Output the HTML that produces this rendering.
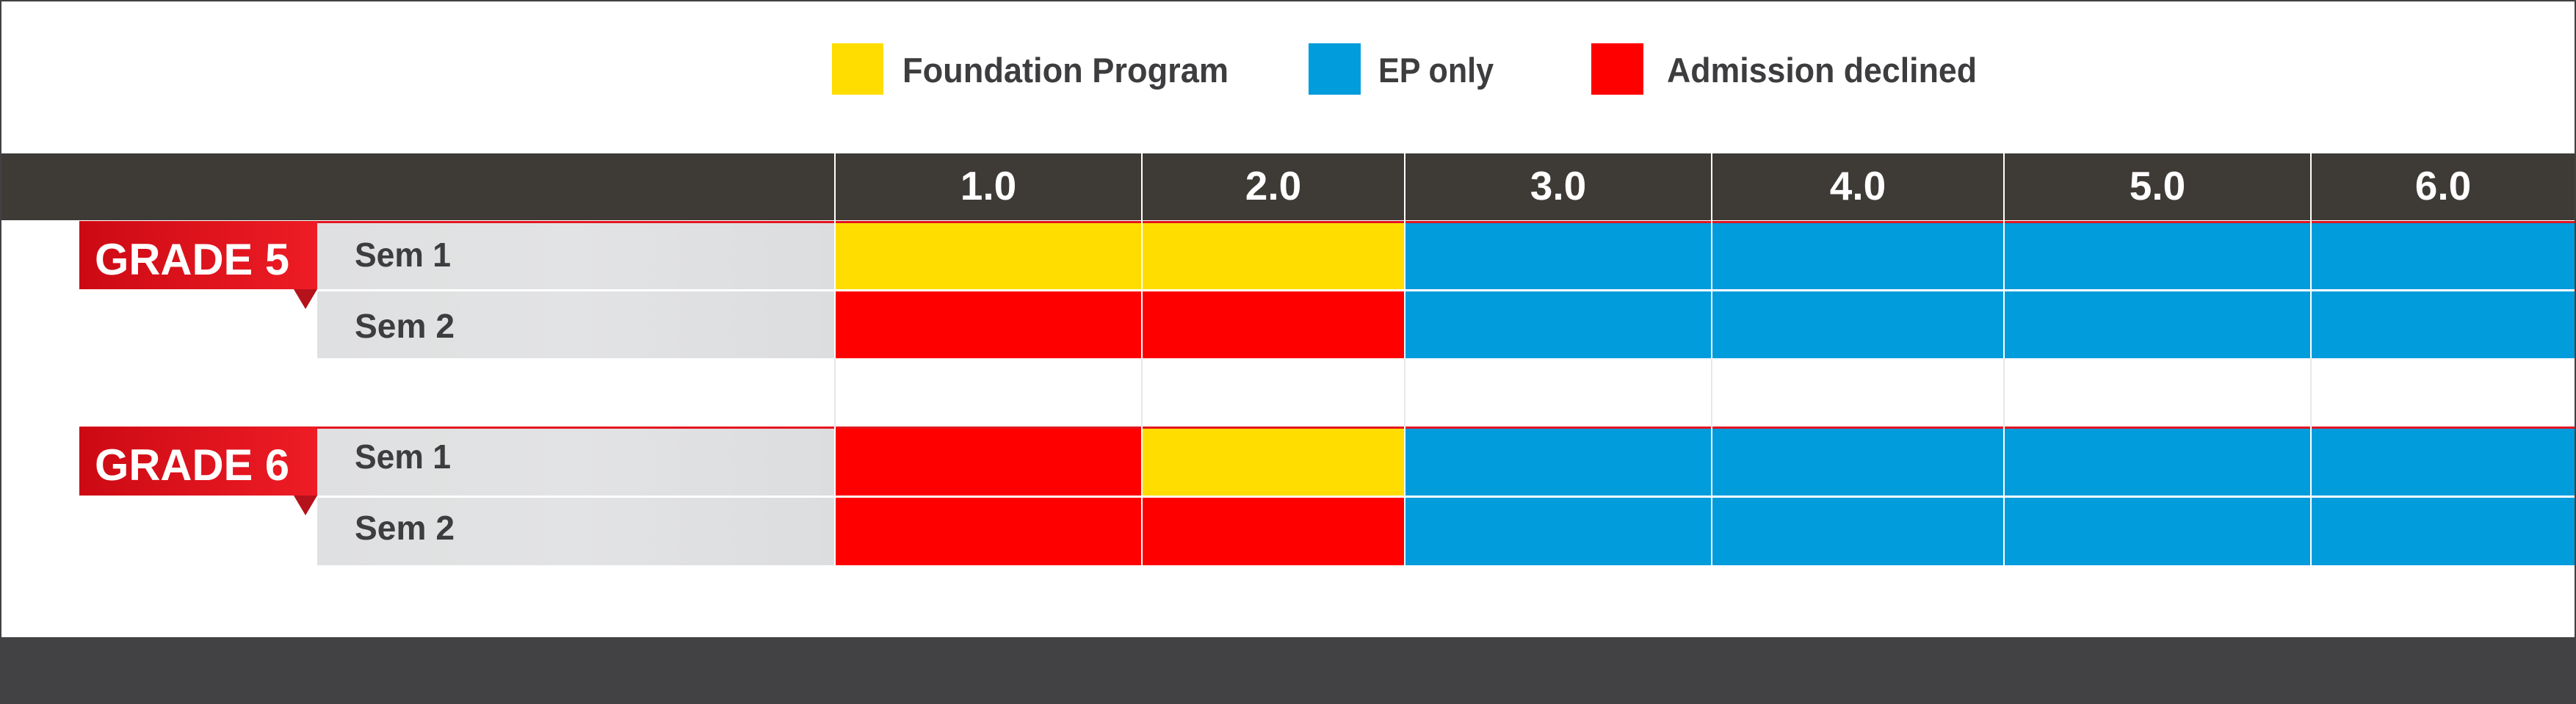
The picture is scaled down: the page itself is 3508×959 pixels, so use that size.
<!DOCTYPE html>
<html><head><meta charset="utf-8"><style>html,body{margin:0;padding:0;background:#fff}svg{display:block}</style></head><body>
<svg width="3508" height="959" viewBox="0 0 3508 959" xmlns="http://www.w3.org/2000/svg" font-family="Liberation Sans, sans-serif">
<defs>
<linearGradient id="gr" x1="0" x2="1" y1="0" y2="0"><stop offset="0" stop-color="#cc0a14"/><stop offset="1" stop-color="#ee1c25"/></linearGradient>
<linearGradient id="gy" x1="0" x2="1" y1="0" y2="0"><stop offset="0" stop-color="#dfe0e1"/><stop offset="0.5" stop-color="#e2e3e4"/><stop offset="1" stop-color="#dcdddf"/></linearGradient>
</defs>
<rect width="3508" height="959" fill="#fff"/>
<!-- legend -->
<rect x="1133" y="59" width="70" height="70" fill="#ffdd00"/>
<text x="1229" y="112" font-size="47" font-weight="bold" fill="#3d3d3f" textLength="444" lengthAdjust="spacingAndGlyphs">Foundation Program</text>
<rect x="1782" y="59" width="71" height="70" fill="#009cdc"/>
<text x="1877" y="112" font-size="47" font-weight="bold" fill="#3d3d3f" textLength="157" lengthAdjust="spacingAndGlyphs">EP only</text>
<rect x="2167" y="59" width="71" height="70" fill="#ff0000"/>
<text x="2270" y="112" font-size="47" font-weight="bold" fill="#3d3d3f" textLength="422" lengthAdjust="spacingAndGlyphs">Admission declined</text>
<!-- header -->
<rect x="0" y="209" width="3508" height="91" fill="#3e3a36"/>
<g fill="#fff" font-size="55" font-weight="bold" text-anchor="middle">
<text x="1346" y="272">1.0</text>
<text x="1734" y="272">2.0</text>
<text x="2122" y="272">3.0</text>
<text x="2530" y="272">4.0</text>
<text x="2938" y="272">5.0</text>
<text x="3327" y="272">6.0</text>
</g>
<!-- red top lines -->
<rect x="108" y="301" width="3400" height="3" fill="#e3151f"/>
<rect x="108" y="581" width="3400" height="3" fill="#e3151f"/>
<!-- gray row labels -->
<rect x="432" y="304" width="705" height="90" fill="url(#gy)"/>
<rect x="432" y="397" width="705" height="91" fill="url(#gy)"/>
<rect x="432" y="584" width="705" height="91" fill="url(#gy)"/>
<rect x="432" y="678" width="705" height="92" fill="url(#gy)"/>
<g fill="#3d3d3f" font-size="46" font-weight="bold">
<text x="483" y="363" textLength="131" lengthAdjust="spacingAndGlyphs">Sem 1</text>
<text x="483" y="460" textLength="136" lengthAdjust="spacingAndGlyphs">Sem 2</text>
<text x="483" y="638" textLength="131" lengthAdjust="spacingAndGlyphs">Sem 1</text>
<text x="483" y="735" textLength="136" lengthAdjust="spacingAndGlyphs">Sem 2</text>
</g>
<!-- cells -->
<g>
<rect x="1137" y="304" width="418" height="90" fill="#ffdd00"/>
<rect x="1555" y="304" width="358" height="90" fill="#ffdd00"/>
<rect x="1913" y="304" width="1595" height="90" fill="#009cdc"/>
<rect x="1137" y="397" width="776" height="91" fill="#ff0000"/>
<rect x="1913" y="397" width="1595" height="91" fill="#009cdc"/>
<rect x="1137" y="584" width="418" height="91" fill="#ff0000"/>
<rect x="1555" y="584" width="358" height="91" fill="#ffdd00"/>
<rect x="1913" y="584" width="1595" height="91" fill="#009cdc"/>
<rect x="1137" y="678" width="776" height="92" fill="#ff0000"/>
<rect x="1913" y="678" width="1595" height="92" fill="#009cdc"/>
</g>
<!-- vertical lines -->
<g fill="#fff">
<rect x="1136" y="209" width="2" height="561"/>
<rect x="1554" y="209" width="2" height="561"/>
<rect x="1912" y="209" width="2" height="561"/>
<rect x="2330" y="209" width="2" height="561"/>
<rect x="2728" y="209" width="2" height="561"/>
<rect x="3146" y="209" width="2" height="561"/>
</g>
<g fill="#e8e8e8">
<rect x="1136" y="488" width="2" height="93"/>
<rect x="1554" y="488" width="2" height="93"/>
<rect x="1912" y="488" width="2" height="93"/>
<rect x="2330" y="488" width="2" height="93"/>
<rect x="2728" y="488" width="2" height="93"/>
<rect x="3146" y="488" width="2" height="93"/>
</g>
<!-- grade labels -->
<rect x="108" y="302" width="324" height="92" fill="url(#gr)"/>
<polygon points="400,394 432,394 416,421" fill="#b5121b"/>
<text x="129" y="374" font-size="60" font-weight="bold" fill="#fff" textLength="265" lengthAdjust="spacingAndGlyphs">GRADE 5</text>
<rect x="108" y="582" width="324" height="93" fill="url(#gr)"/>
<polygon points="400,675 432,675 416,702" fill="#b5121b"/>
<text x="129" y="654" font-size="60" font-weight="bold" fill="#fff" textLength="265" lengthAdjust="spacingAndGlyphs">GRADE 6</text>
<!-- bottom band and borders -->
<rect x="0" y="868" width="3508" height="91" fill="#424143"/>
<rect x="0" y="0" width="3508" height="2" fill="#424143"/>
<rect x="0" y="0" width="2" height="959" fill="#424143"/>
<rect x="3506" y="0" width="2" height="959" fill="#424143"/>
</svg>
</body></html>
